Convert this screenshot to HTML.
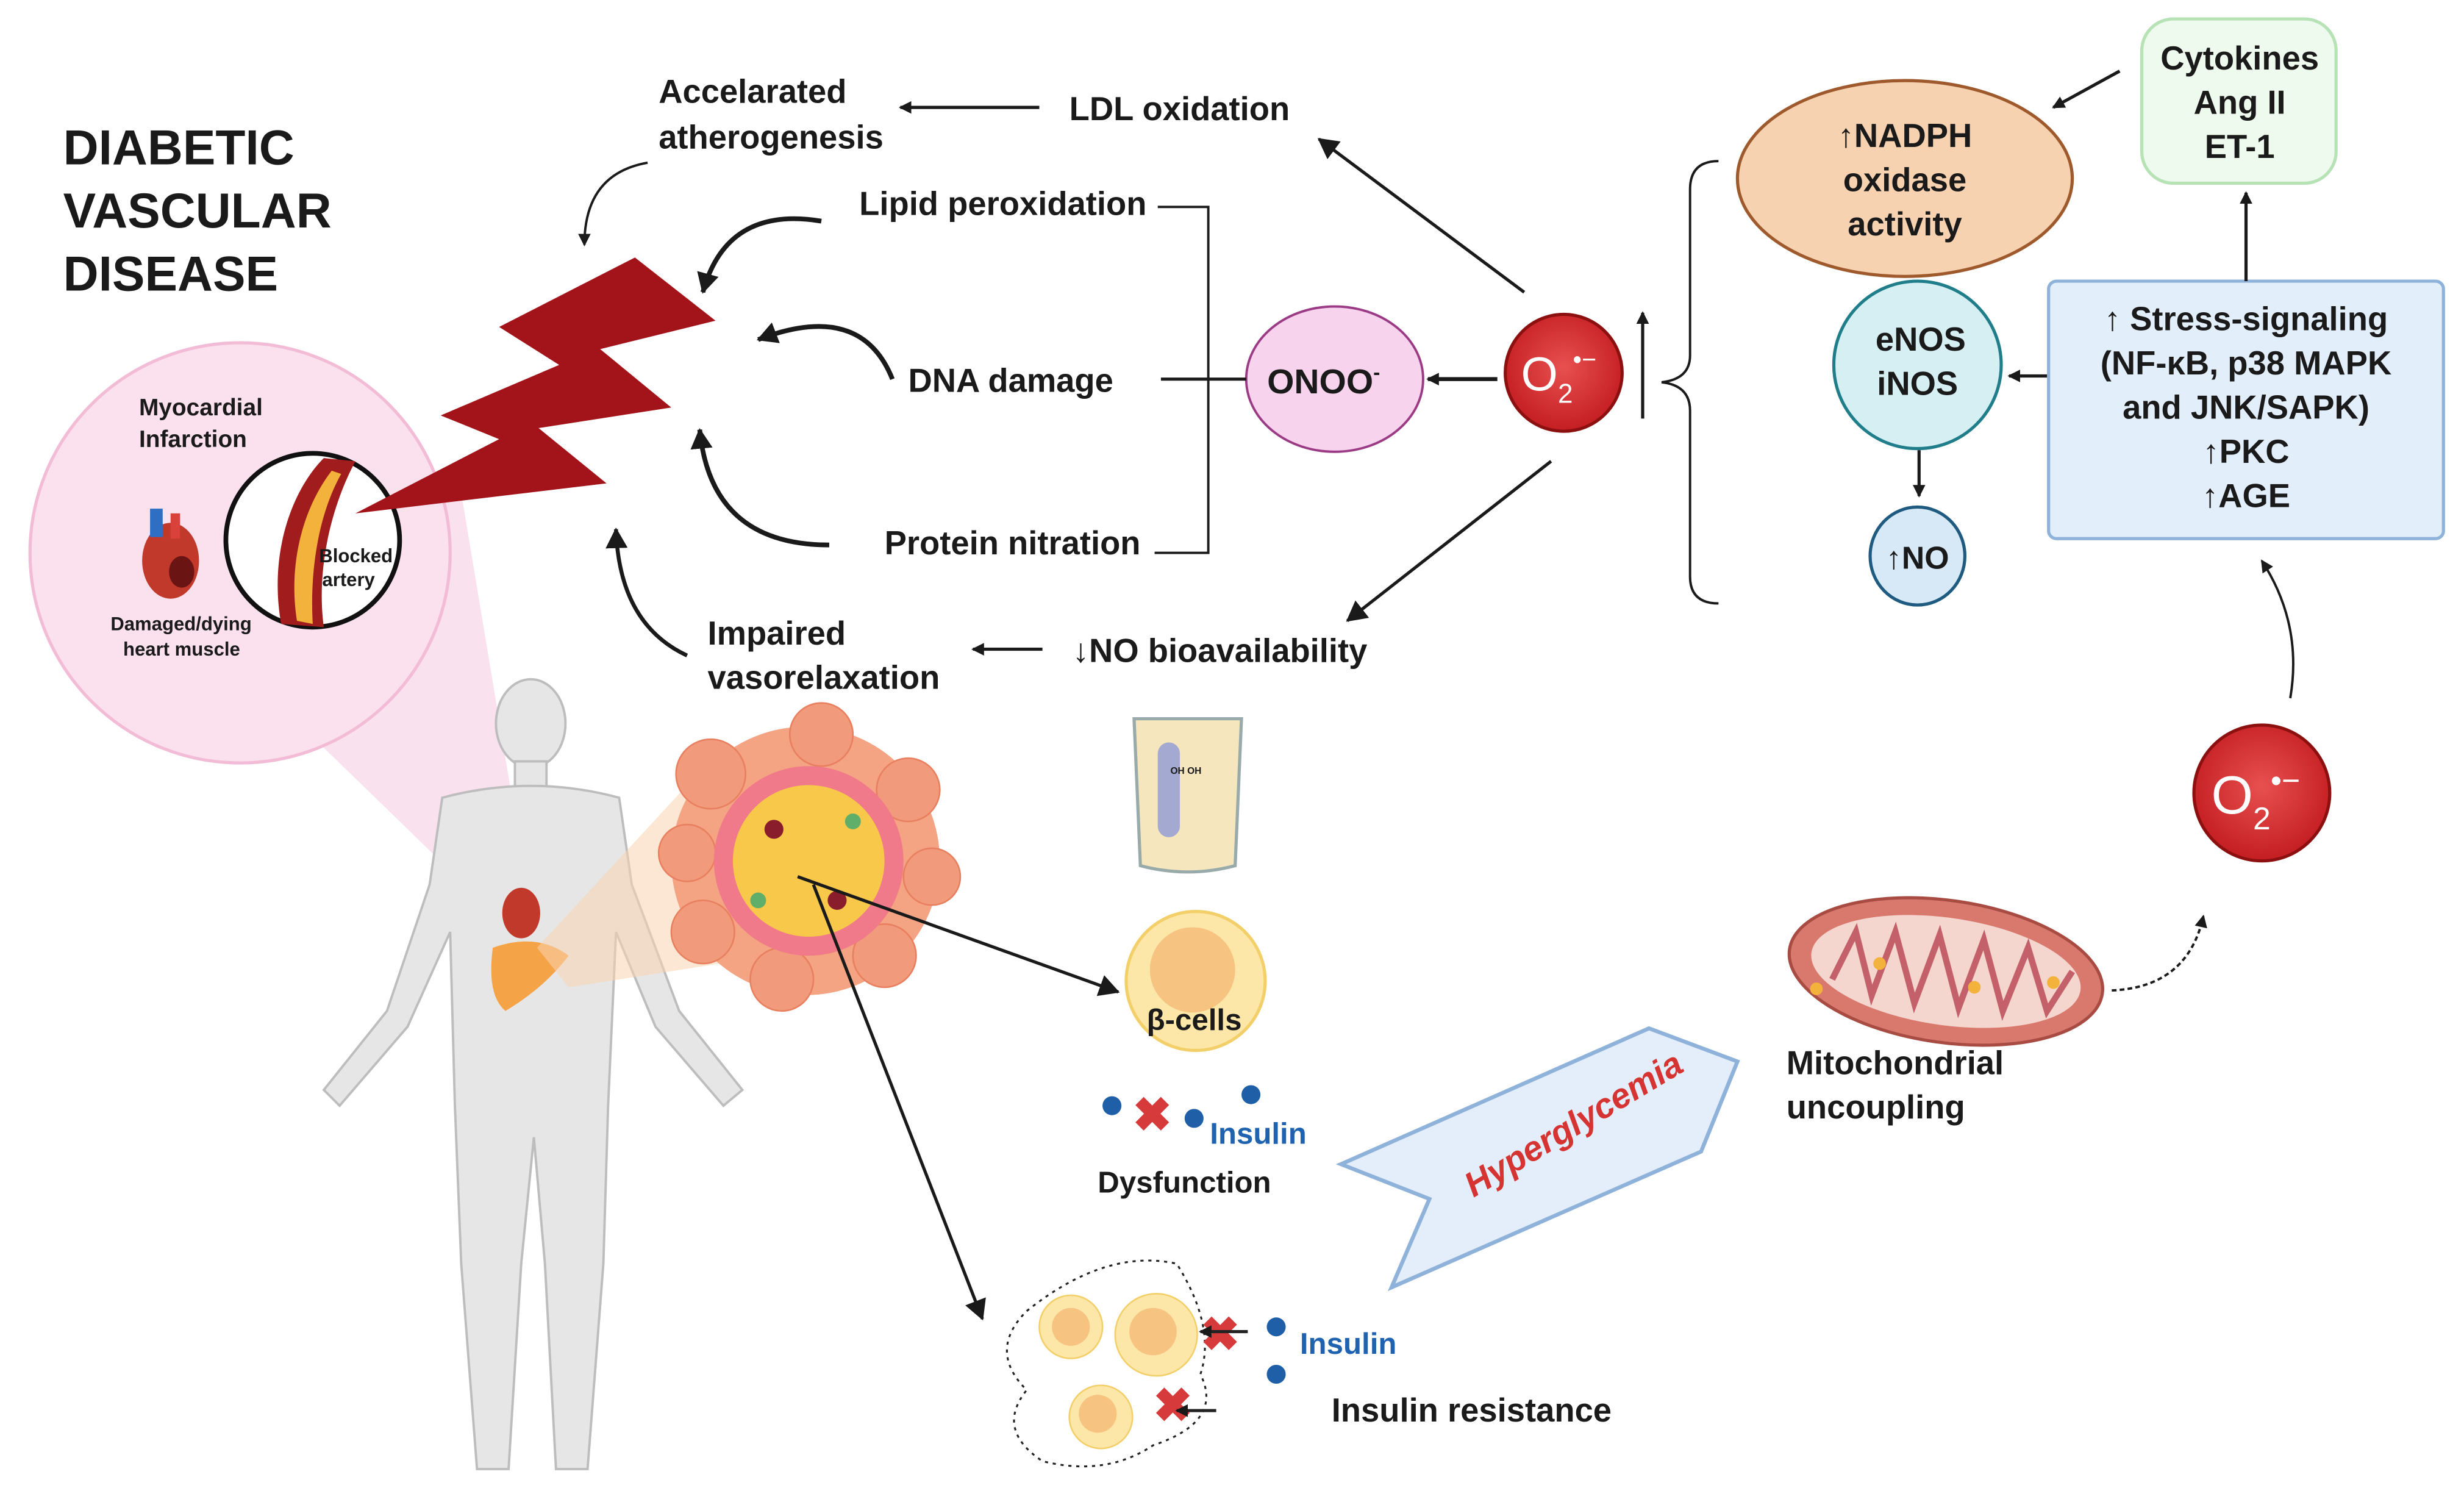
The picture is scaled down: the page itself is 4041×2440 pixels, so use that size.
<!DOCTYPE html>
<html><head><meta charset="utf-8"><style>
html,body{margin:0;padding:0;background:#fff;}
svg{display:block;}
text{font-family:"Liberation Sans",sans-serif;font-weight:bold;fill:#1a1a1a;}
</style></head><body>
<svg width="4041" height="2440" viewBox="0 0 1560 942" preserveAspectRatio="none" xmlns="http://www.w3.org/2000/svg">
<defs>
<marker id="ah" markerWidth="8" markerHeight="8" refX="7" refY="4" orient="auto" markerUnits="userSpaceOnUse"><path d="M0,0 L8,4 L0,8 z" fill="#1a1a1a"/></marker>
<marker id="ah2" markerWidth="14" markerHeight="14" refX="12" refY="7" orient="auto" markerUnits="userSpaceOnUse"><path d="M0,0 L13,7 L0,14 z" fill="#1a1a1a"/></marker>
<radialGradient id="rg" cx="50%" cy="45%" r="55%"><stop offset="0" stop-color="#e85050"/><stop offset="1" stop-color="#c41e22"/></radialGradient>
</defs>
<rect width="1560" height="942" fill="#fff"/>

<text x="40" y="104" font-size="31">DIABETIC</text>
<text x="40" y="144" font-size="31">VASCULAR</text>
<text x="40" y="184" font-size="31">DISEASE</text>

<polygon points="150,420 290,300 335,570 320,585" fill="#f9d9ea" opacity="0.8"/>
<circle cx="152" cy="350" r="133" fill="#fbe1ee" stroke="#f3bcd6" stroke-width="2"/>
<text x="88" y="263" font-size="15">Myocardial</text>
<text x="88" y="283" font-size="15">Infarction</text>
<text x="70" y="399" font-size="12">Damaged/dying</text>
<text x="78" y="415" font-size="12">heart muscle</text>
<ellipse cx="108" cy="355" rx="18" ry="24" fill="#c0392b"/>
<rect x="95" y="322" width="8" height="18" fill="#2e6fc4"/>
<rect x="108" y="325" width="6" height="16" fill="#d9423a"/>
<ellipse cx="115" cy="362" rx="8" ry="10" fill="#6b1414"/>
<circle cx="198" cy="342" r="55" fill="#fff" stroke="#111" stroke-width="3"/>
<path d="M178,395 C170,350 185,310 205,290 L225,292 C210,320 200,360 205,397 Z" fill="#a11c1c"/>
<path d="M188,393 C182,355 193,320 210,298 L216,300 C202,325 196,360 198,395 Z" fill="#f3b23b"/>
<text x="202" y="356" font-size="12">Blocked</text>
<text x="204" y="371" font-size="12">artery</text>

<polygon points="402,163 453,203 380,221 425,258 341,271 384,306 225,325 316,278 279,263 354,231 316,207" fill="#a3141a"/>

<g fill="#e6e6e6" stroke="#bdbdbd" stroke-width="1.5">
<ellipse cx="336" cy="458" rx="22" ry="28"/>
<rect x="326" y="482" width="20" height="18"/>
<path d="M280,505 Q336,490 392,505 L400,560 L430,640 L470,690 L458,700 L415,650 L390,590 L385,700 L382,800 L372,930 L352,930 L345,800 L338,720 L330,800 L322,930 L302,930 L292,800 L288,700 L285,590 L258,650 L215,700 L205,690 L245,640 L272,560 Z"/>
</g>
<ellipse cx="330" cy="578" rx="12" ry="16" fill="#c0392b"/>
<path d="M312,600 Q340,590 360,605 Q345,625 320,640 Q308,630 312,600Z" fill="#f4a347"/>
<polygon points="340,600 460,470 520,600 360,625" fill="#fad3b0" opacity="0.55"/>

<circle cx="510" cy="545" r="85" fill="#f4a383"/>
<g fill="#f19a7c" stroke="#e8805f" stroke-width="1">
<circle cx="450" cy="490" r="22"/><circle cx="520" cy="465" r="20"/><circle cx="575" cy="500" r="20"/><circle cx="590" cy="555" r="18"/><circle cx="560" cy="605" r="20"/><circle cx="495" cy="620" r="20"/><circle cx="445" cy="590" r="20"/><circle cx="435" cy="540" r="18"/>
</g>
<circle cx="512" cy="545" r="60" fill="#f07a8a"/>
<circle cx="512" cy="545" r="48" fill="#f7c84a"/>
<circle cx="490" cy="525" r="6" fill="#8a1d2b"/><circle cx="530" cy="570" r="6" fill="#8a1d2b"/><circle cx="540" cy="520" r="5" fill="#5fae6a"/><circle cx="480" cy="570" r="5" fill="#5fae6a"/>

<path d="M718,455 L786,455 L782,548 Q752,556 722,548 Z" fill="#f5e6bd" stroke="#9aa" stroke-width="2"/>
<rect x="733" y="470" width="14" height="60" rx="7" fill="#8e9ad6" opacity="0.8"/>
<text x="741" y="490" font-size="6">OH OH</text>

<circle cx="757" cy="621" r="44" fill="#fce7a8" stroke="#f3cf6a" stroke-width="2"/>
<circle cx="755" cy="614" r="27" fill="#f7c381"/>
<text x="726" y="652" font-size="19">β-cells</text>
<circle cx="704" cy="700" r="6" fill="#1f5fa8"/>
<circle cx="792" cy="693" r="6" fill="#1f5fa8"/>
<circle cx="756" cy="708" r="6" fill="#1f5fa8"/>
<text x="717" y="716" font-size="30" style="fill:#d63a3a">✖</text>
<text x="766" y="724" font-size="19" style="fill:#1f63b0">Insulin</text>
<text x="695" y="755" font-size="19">Dysfunction</text>

<path d="M650,830 Q700,790 745,800 Q770,840 760,870 Q775,900 730,915 Q700,935 660,925 Q630,905 650,880 Q625,855 650,830Z" fill="none" stroke="#222" stroke-width="1.2" stroke-dasharray="2,3"/>
<circle cx="678" cy="840" r="20" fill="#fce7a8" stroke="#f3cf6a"/><circle cx="678" cy="840" r="12" fill="#f7c381"/>
<circle cx="732" cy="845" r="26" fill="#fce7a8" stroke="#f3cf6a"/><circle cx="730" cy="843" r="15" fill="#f7c381"/>
<circle cx="697" cy="897" r="20" fill="#fce7a8" stroke="#f3cf6a"/><circle cx="695" cy="895" r="12" fill="#f7c381"/>
<text x="760" y="855" font-size="30" style="fill:#d63a3a">✖</text>
<text x="730" y="900" font-size="30" style="fill:#d63a3a">✖</text>
<line x1="790" y1="843" x2="760" y2="843" stroke="#222" stroke-width="2" marker-end="url(#ah)"/>
<line x1="770" y1="893" x2="745" y2="893" stroke="#222" stroke-width="2" marker-end="url(#ah)"/>
<circle cx="808" cy="840" r="6" fill="#1f5fa8"/><circle cx="808" cy="870" r="6" fill="#1f5fa8"/>
<text x="823" y="857" font-size="19" style="fill:#1f63b0">Insulin</text>
<text x="843" y="900" font-size="21">Insulin resistance</text>

<line x1="505" y1="555" x2="708" y2="628" stroke="#1a1a1a" stroke-width="2" marker-end="url(#ah2)"/>
<line x1="515" y1="560" x2="622" y2="835" stroke="#1a1a1a" stroke-width="2" marker-end="url(#ah2)"/>

<polygon points="1044,651 1100,672 1077,729 881,815 905,759 849,737" fill="#e3eefa" stroke="#8fb2da" stroke-width="2.5"/>
<text x="0" y="0" font-size="22" text-anchor="middle" transform="translate(1000,718) rotate(-31)" style="fill:#d63333;font-style:italic">Hyperglycemia</text>

<ellipse cx="1232" cy="615" rx="100" ry="45" transform="rotate(8 1232 615)" fill="#d9786d" stroke="#a84c43" stroke-width="2"/>
<ellipse cx="1232" cy="615" rx="86" ry="34" transform="rotate(8 1232 615)" fill="#f4d6cf"/>
<path d="M1160,620 L1175,590 L1185,630 L1200,590 L1212,635 L1228,592 L1240,638 L1256,595 L1268,640 L1284,600 L1296,640 L1312,615" fill="none" stroke="#c4606a" stroke-width="4"/>
<circle cx="1190" cy="610" r="4" fill="#f3b23b"/><circle cx="1250" cy="625" r="4" fill="#f3b23b"/><circle cx="1300" cy="622" r="4" fill="#f3b23b"/><circle cx="1150" cy="626" r="4" fill="#f3b23b"/>
<text x="1131" y="680" font-size="21">Mitochondrial</text>
<text x="1131" y="708" font-size="21">uncoupling</text>
<path d="M1337,627 Q1385,625 1395,580" fill="none" stroke="#1a1a1a" stroke-width="1.5" stroke-dasharray="3,2" marker-end="url(#ah)"/>

<circle cx="1432" cy="502" r="43" fill="url(#rg)" stroke="#8c1010" stroke-width="2"/>
<text x="1400" y="515" font-size="34" style="fill:#fff;font-weight:normal">O<tspan font-size="20" dy="10">2</tspan><tspan font-size="20" dy="-24">•−</tspan></text>
<path d="M1450,442 Q1458,395 1432,355" fill="none" stroke="#1a1a1a" stroke-width="1.5" marker-end="url(#ah)"/>

<rect x="1297" y="178" width="250" height="163" rx="5" fill="#e3eefb" stroke="#8fb2da" stroke-width="2"/>
<text x="1422" y="209" font-size="21" text-anchor="middle">↑ Stress-signaling</text>
<text x="1422" y="237" font-size="21" text-anchor="middle">(NF-κB, p38 MAPK</text>
<text x="1422" y="265" font-size="21" text-anchor="middle">and JNK/SAPK)</text>
<text x="1422" y="293" font-size="21" text-anchor="middle">↑PKC</text>
<text x="1422" y="321" font-size="21" text-anchor="middle">↑AGE</text>
<rect x="1356" y="12" width="123" height="104" rx="20" fill="#eefaee" stroke="#b7e2b5" stroke-width="2"/>
<text x="1418" y="44" font-size="21" text-anchor="middle">Cytokines</text>
<text x="1418" y="72" font-size="21" text-anchor="middle">Ang II</text>
<text x="1418" y="100" font-size="21" text-anchor="middle">ET-1</text>
<line x1="1422" y1="178" x2="1422" y2="122" stroke="#1a1a1a" stroke-width="2" marker-end="url(#ah)"/>
<line x1="1342" y1="45" x2="1300" y2="68" stroke="#1a1a1a" stroke-width="2" marker-end="url(#ah)"/>
<ellipse cx="1206" cy="113" rx="106" ry="62" fill="#f6d2b1" stroke="#9e5a2c" stroke-width="2"/>
<text x="1206" y="93" font-size="21" text-anchor="middle">↑NADPH</text>
<text x="1206" y="121" font-size="21" text-anchor="middle">oxidase</text>
<text x="1206" y="149" font-size="21" text-anchor="middle">activity</text>
<circle cx="1214" cy="231" r="53" fill="#d5eff2" stroke="#1f7e8a" stroke-width="2"/>
<text x="1216" y="222" font-size="21" text-anchor="middle">eNOS</text>
<text x="1214" y="250" font-size="21" text-anchor="middle">iNOS</text>
<line x1="1296" y1="238" x2="1272" y2="238" stroke="#1a1a1a" stroke-width="2" marker-end="url(#ah)"/>
<line x1="1215" y1="285" x2="1215" y2="314" stroke="#1a1a1a" stroke-width="2" marker-end="url(#ah)"/>
<ellipse cx="1214" cy="352" rx="30" ry="31" fill="#d7e9f7" stroke="#1f5a80" stroke-width="2"/>
<text x="1214" y="360" font-size="20" text-anchor="middle">↑NO</text>

<path d="M1088,102 Q1070,102 1070,120 L1070,225 Q1070,240 1052,242 Q1070,244 1070,260 L1070,365 Q1070,382 1088,382" fill="none" stroke="#1a1a1a" stroke-width="1.5"/>
<line x1="1040" y1="265" x2="1040" y2="198" stroke="#1a1a1a" stroke-width="2" marker-end="url(#ah)"/>

<circle cx="990" cy="236" r="37" fill="url(#rg)" stroke="#8c1010" stroke-width="2"/>
<text x="963" y="247" font-size="30" style="fill:#fff;font-weight:normal">O<tspan font-size="17" dy="8">2</tspan><tspan font-size="16" dy="-22">•−</tspan></text>
<line x1="948" y1="240" x2="904" y2="240" stroke="#1a1a1a" stroke-width="2.5" marker-end="url(#ah)"/>
<line x1="965" y1="185" x2="835" y2="88" stroke="#1a1a1a" stroke-width="2" marker-end="url(#ah2)"/>
<line x1="982" y1="292" x2="853" y2="393" stroke="#1a1a1a" stroke-width="2" marker-end="url(#ah2)"/>

<ellipse cx="845" cy="240" rx="56" ry="46" fill="#f8d3ee" stroke="#9b3b85" stroke-width="1.5"/>
<text x="838" y="249" font-size="22" text-anchor="middle">ONOO<tspan font-size="13" dy="-9">-</tspan></text>
<line x1="789" y1="240" x2="735" y2="240" stroke="#1a1a1a" stroke-width="2"/>
<path d="M733,131 L765,131 L765,350 L731,350" fill="none" stroke="#1a1a1a" stroke-width="1.5"/>

<text x="544" y="136" font-size="21">Lipid peroxidation</text>
<text x="575" y="248" font-size="21">DNA damage</text>
<text x="560" y="351" font-size="21">Protein nitration</text>
<text x="677" y="76" font-size="21">LDL oxidation</text>
<text x="417" y="65" font-size="21">Accelarated</text>
<text x="417" y="94" font-size="21">atherogenesis</text>
<line x1="658" y1="68" x2="570" y2="68" stroke="#1a1a1a" stroke-width="2" marker-end="url(#ah)"/>
<text x="679" y="419" font-size="21">↓NO bioavailability</text>
<text x="448" y="408" font-size="21">Impaired</text>
<text x="448" y="436" font-size="21">vasorelaxation</text>
<line x1="660" y1="411" x2="616" y2="411" stroke="#1a1a1a" stroke-width="2" marker-end="url(#ah)"/>

<path d="M410,103 Q370,110 370,155" fill="none" stroke="#1a1a1a" stroke-width="1.5" marker-end="url(#ah)"/>
<path d="M520,140 Q460,130 445,185" fill="none" stroke="#1a1a1a" stroke-width="3" marker-end="url(#ah2)"/>
<path d="M565,240 Q545,190 480,215" fill="none" stroke="#1a1a1a" stroke-width="3" marker-end="url(#ah2)"/>
<path d="M525,345 Q450,345 443,272" fill="none" stroke="#1a1a1a" stroke-width="3" marker-end="url(#ah2)"/>
<path d="M435,415 Q392,395 390,335" fill="none" stroke="#1a1a1a" stroke-width="2.5" marker-end="url(#ah2)"/>
</svg>
</body></html>
